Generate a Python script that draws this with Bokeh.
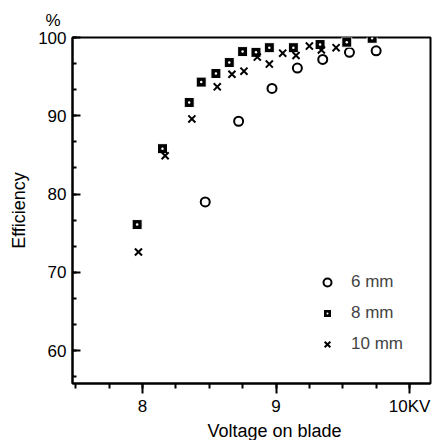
from bokeh.plotting import figure
from bokeh.models import (SingleIntervalTicker, Legend, LegendItem, Title, Range1d)
from bokeh.embed import file_html
from bokeh.resources import INLINE

# 6 mm (open circles)
v6 = [8.47, 8.72, 8.97, 9.16, 9.35, 9.55, 9.75]
e6 = [79.0, 89.3, 93.5, 96.1, 97.2, 98.1, 98.3]

# 8 mm (dotted squares)
v8 = [7.96, 8.15, 8.35, 8.44, 8.55, 8.65, 8.75, 8.85, 8.95, 9.13, 9.33, 9.53, 9.72]
e8 = [76.1, 85.8, 91.7, 94.3, 95.4, 96.8, 98.2, 98.1, 98.7, 98.7, 99.1, 99.4, 99.9]

# 10 mm (crosses)
v10 = [7.97, 8.17, 8.37, 8.56, 8.67, 8.76, 8.86, 8.95, 9.05, 9.15, 9.25, 9.34, 9.45]
e10 = [72.6, 84.9, 89.6, 93.7, 95.3, 95.7, 97.5, 96.6, 98.0, 97.7, 98.9, 98.4, 98.7]

series_labels = ["6 mm", "8 mm", "10 mm"]
x_tick_labels = {10: "10KV"}

FONT = "Liberation Sans"

p = figure(width=438, height=440, output_backend="svg", toolbar_location=None,
           x_range=Range1d(7.476, 10.157), y_range=Range1d(55.8, 100),
           min_border_left=72, min_border_right=8, min_border_top=37, min_border_bottom=53)
p.background_fill_color = "white"
p.border_fill_color = "white"
p.outline_line_color = "black"
p.outline_line_width = 2
p.xgrid.visible = False
p.ygrid.visible = False

p.title.text = "%"
p.title.align = "left"
p.title.offset = -27
p.title.standoff = 15
p.title.text_font = FONT
p.title.text_font_size = "17px"
p.title.text_font_style = "normal"
p.title.text_color = "black"

p.xaxis.ticker = SingleIntervalTicker(interval=1, num_minor_ticks=4)
p.yaxis.ticker = SingleIntervalTicker(interval=10, num_minor_ticks=3)
p.xaxis.major_label_overrides = x_tick_labels

for ax in (p.xaxis[0], p.yaxis[0]):
    ax.axis_line_width = 2
    ax.axis_line_color = "black"
    ax.major_tick_line_width = 2
    ax.minor_tick_line_width = 2
    ax.major_tick_line_color = "black"
    ax.minor_tick_line_color = "black"
    ax.major_label_text_font = FONT
    ax.major_label_text_font_size = "17px"
    ax.major_label_text_color = "black"
    ax.axis_label_text_font = FONT
    ax.axis_label_text_font_size = "18px"
    ax.axis_label_text_font_style = "normal"
    ax.axis_label_text_color = "black"

p.xaxis.major_tick_in = 0
p.xaxis.major_tick_out = 10
p.xaxis.minor_tick_in = 0
p.xaxis.minor_tick_out = 5
p.xaxis.major_label_standoff = 3

p.yaxis.major_tick_in = 8
p.yaxis.major_tick_out = 0
p.yaxis.minor_tick_in = 4
p.yaxis.minor_tick_out = 0
p.yaxis.major_label_standoff = 6
p.yaxis.axis_label = "Efficiency"
p.yaxis.axis_label_standoff = 6

r6 = p.scatter(v6, e6, marker="circle", size=9, fill_alpha=0,
               line_color="black", line_width=2)
r8 = p.scatter(v8, e8, marker="square_dot", size=10, fill_color="black",
               line_color="white", line_width=1)
r10 = p.scatter(v10, e10, marker="x", size=10, line_color="black", line_width=2)

legend = Legend(items=[LegendItem(label=series_labels[0], renderers=[r6]),
                       LegendItem(label=series_labels[1], renderers=[r8]),
                       LegendItem(label=series_labels[2], renderers=[r10])],
                location=(245, 29), border_line_alpha=0, background_fill_alpha=0,
                glyph_width=20, glyph_height=20, label_height=20, spacing=11,
                padding=0, margin=0, label_standoff=14,
                label_text_font=FONT, label_text_font_size="17px")
p.add_layout(legend)

xlabel = Title(text="Voltage on blade", align="left", offset=135, standoff=0,
               text_font=FONT, text_font_size="18px", text_font_style="normal",
               text_color="black")
p.add_layout(xlabel, "below")

open("out.html", "w").write(file_html(p, INLINE))
